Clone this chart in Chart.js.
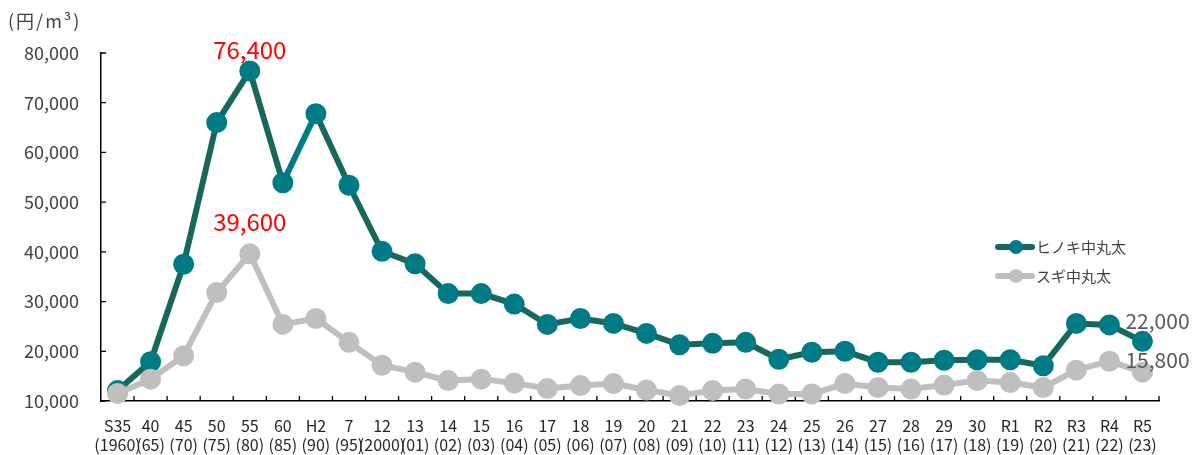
<!DOCTYPE html>
<html>
<head>
<meta charset="utf-8">
<script src="https://cdn.jsdelivr.net/npm/chart.js@4/dist/chart.umd.min.js"></script>
<style>
  body { margin: 0; background: #fff; }
  #wrap { width: 1199px; height: 455px; }
</style>
</head>
<body>
<div id="wrap"><canvas id="chart" width="1199" height="455"></canvas></div>
<script>
"use strict";

// 年（和暦）と西暦
const eraLabels = ["S35", "40", "45", "50", "55", "60", "H2", "7", "12", "13", "14", "15", "16", "17", "18", "19", "20", "21", "22", "23", "24", "25", "26", "27", "28", "29", "30", "R1", "R2", "R3", "R4", "R5"];
const yearLabels = ["(1960)", "(65)", "(70)", "(75)", "(80)", "(85)", "(90)", "(95)", "(2000)", "(01)", "(02)", "(03)", "(04)", "(05)", "(06)", "(07)", "(08)", "(09)", "(10)", "(11)", "(12)", "(13)", "(14)", "(15)", "(16)", "(17)", "(18)", "(19)", "(20)", "(21)", "(22)", "(23)"];

// 円/m3
const hinoki = [12100, 17900, 37500, 66000, 76400, 53900, 67800, 53400, 40100, 37600, 31600, 31600, 29500, 25400, 26600, 25600, 23600, 21300, 21600, 21800, 18400, 19800, 20000, 17800, 17800, 18200, 18300, 18300, 17100, 25600, 25300, 22000];
const sugi = [11500, 14400, 19100, 31800, 39600, 25400, 26600, 21800, 17200, 15800, 14100, 14400, 13600, 12500, 13100, 13500, 12200, 11100, 12100, 12400, 11400, 11400, 13500, 12700, 12400, 13200, 14100, 13700, 12700, 16200, 18000, 15800];

const seriesNames = ["ヒノキ中丸太", "スギ中丸太"];
const yTicks = [10000, 20000, 30000, 40000, 50000, 60000, 70000, 80000];
const unitLabel = "(円/m³)";

const hinokiLine = "#17675b";
const hinokiPoint = "#007b85";
const sugiColor = "#bfbfbf";
const textColor = "#404040";
const jpFont = "'Noto Sans CJK JP', 'Noto Sans', sans-serif";

// 軸の内向き目盛
const tickMarks = {
    id: "tickMarks",
    beforeDatasetsDraw(chart) {
        const ctx = chart.ctx;
        const x = chart.scales.x;
        const y = chart.scales.y;
        ctx.save();
        ctx.strokeStyle = "#000";
        ctx.lineWidth = 1.3;
        ctx.beginPath();
        yTicks.forEach((v) => {
            const py = y.getPixelForValue(v);
            ctx.moveTo(x.left, py);
            ctx.lineTo(x.left + 5, py);
        });
        const step = x.width / eraLabels.length;
        for (let i = 1; i <= eraLabels.length; i++) {
            const px = x.left + i * step;
            ctx.moveTo(px, y.bottom);
            ctx.lineTo(px, y.bottom - 5);
        }
        ctx.stroke();
        ctx.restore();
    }
};

// 単位、注記、凡例
const extras = {
    id: "extras",
    afterDraw(chart) {
        const ctx = chart.ctx;
        const x = chart.scales.x;
        const y = chart.scales.y;
        const last = eraLabels.length - 1;
        ctx.save();

        ctx.fillStyle = textColor;
        ctx.font = "18px " + jpFont;
        ctx.textAlign = "left";
        ctx.textBaseline = "middle";
        ctx.letterSpacing = "2px";
        ctx.fillText(unitLabel, 8, 21);
        ctx.letterSpacing = "0px";

        // ピーク値
        ctx.fillStyle = "#ff0000";
        ctx.font = "24px " + jpFont;
        ctx.textAlign = "center";
        ctx.fillText(hinoki[4].toLocaleString("en-US"), x.getPixelForValue(4), y.getPixelForValue(hinoki[4]) - 21);
        ctx.fillText(sugi[4].toLocaleString("en-US"), x.getPixelForValue(4), y.getPixelForValue(sugi[4]) - 32);

        // 最新値
        ctx.fillStyle = "#595959";
        ctx.font = "21px " + jpFont;
        ctx.textAlign = "left";
        ctx.fillText(hinoki[last].toLocaleString("en-US"), x.getPixelForValue(last) - 17, y.getPixelForValue(hinoki[last]) - 20);
        ctx.fillText(sugi[last].toLocaleString("en-US"), x.getPixelForValue(last) - 17, y.getPixelForValue(sugi[last]) - 12);

        // 凡例
        const legendItems = [
            { name: seriesNames[0], line: hinokiLine, point: hinokiPoint, cy: 247 },
            { name: seriesNames[1], line: sugiColor, point: sugiColor, cy: 276 }
        ];
        legendItems.forEach((item) => {
            ctx.strokeStyle = item.line;
            ctx.lineWidth = 6;
            ctx.lineCap = "round";
            ctx.beginPath();
            ctx.moveTo(998, item.cy);
            ctx.lineTo(1032, item.cy);
            ctx.stroke();
            ctx.fillStyle = item.point;
            ctx.beginPath();
            ctx.arc(1016, item.cy, 7, 0, Math.PI * 2);
            ctx.fill();
            ctx.fillStyle = textColor;
            ctx.font = "15px " + jpFont;
            ctx.textBaseline = "middle";
            ctx.fillText(item.name, 1036, item.cy);
        });

        ctx.restore();
    }
};

new Chart(document.getElementById("chart"), {
    type: "line",
    data: {
        labels: eraLabels.map((t, i) => [t, yearLabels[i]]),
        datasets: [
            {
                label: seriesNames[0],
                data: hinoki,
                borderColor: hinokiLine,
                backgroundColor: hinokiPoint,
                pointBackgroundColor: hinokiPoint,
                pointBorderColor: hinokiPoint,
                borderWidth: 6,
                pointRadius: 7.5,
                pointHoverRadius: 7.5,
                tension: 0,
                clip: false,
                order: 1,
                segment: {
                    // 60→H2 の区間は点と同じ色
                    borderColor: (c) => c.p0DataIndex === 5 ? hinokiPoint : hinokiLine
                }
            },
            {
                label: seriesNames[1],
                data: sugi,
                borderColor: sugiColor,
                backgroundColor: sugiColor,
                pointBackgroundColor: sugiColor,
                pointBorderColor: sugiColor,
                borderWidth: 6,
                pointRadius: 7.5,
                pointHoverRadius: 7.5,
                tension: 0,
                clip: false,
                order: 0
            }
        ]
    },
    options: {
        responsive: false,
        animation: false,
        layout: { padding: { top: 53, right: 40, bottom: 0, left: 0 } },
        plugins: {
            legend: { display: false },
            tooltip: { enabled: false }
        },
        scales: {
            x: {
                offset: true,
                grid: { display: false },
                border: { display: true, color: "#000", width: 1.5 },
                ticks: {
                    autoSkip: false,
                    maxRotation: 0,
                    minRotation: 0,
                    padding: 7,
                    color: "#262626",
                    font: { family: jpFont, size: 16, lineHeight: 1.2 }
                },
                afterFit(scale) { scale.height = 54; }
            },
            y: {
                min: 10000,
                max: 80000,
                grid: { display: false },
                border: { display: true, color: "#000", width: 1.5 },
                afterBuildTicks(scale) { scale.ticks = yTicks.map((v) => ({ value: v })); },
                ticks: {
                    padding: 14,
                    color: textColor,
                    font: { family: jpFont, size: 18 },
                    callback: (v) => v.toLocaleString("en-US")
                },
                afterFit(scale) { scale.width = 101; }
            }
        }
    },
    plugins: [tickMarks, extras]
});
</script>
</body>
</html>
